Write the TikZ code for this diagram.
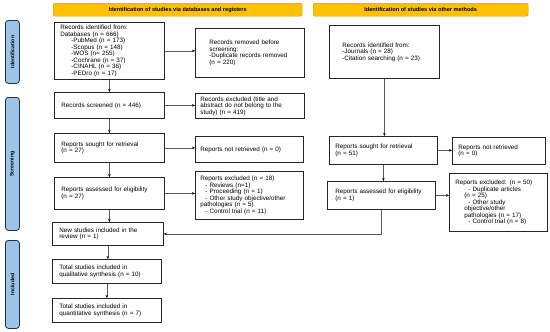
\documentclass[tikz,border=0pt]{standalone}
\usepackage{fontspec}
\setmainfont{Liberation Sans}
\usetikzlibrary{arrows.meta}
\definecolor{hdr}{HTML}{FFC000}
\definecolor{hdrline}{HTML}{C99A00}
\definecolor{barfill}{HTML}{9DC3E6}
\definecolor{barline}{HTML}{1F2F4F}
\begin{document}
\begin{tikzpicture}[x=1pt,y=-1pt,
 box/.style={draw=black!85, line width=0.8pt, fill=white, anchor=north west, align=left, inner ysep=1pt, font=\fontsize{6.3}{6.5}\selectfont},
 hdrbox/.style={draw=hdrline, fill=hdr, rounded corners=2pt, anchor=north west, font=\fontsize{5.6}{6}\selectfont\bfseries, inner sep=0pt},
 bar/.style={draw=barline, fill=barfill, rounded corners=3pt, line width=0.8pt, anchor=north west, inner sep=0pt},
 barlabel/.style={rotate=90, font=\fontsize{5.2}{6}\selectfont\bfseries},
 arr/.style={draw=black!65, line width=0.7pt, -{Stealth[length=3pt,width=2.6pt,black]}}]
\useasboundingbox (0,0) rectangle (550,332);
% headers
\node[hdrbox, minimum width=249pt, minimum height=13pt] (h1) at (53,3) {Identification of studies via databases and registers};
\node[hdrbox, minimum width=215pt, minimum height=13pt] (h2) at (313,3) {Identification of studies via other methods};
% side bars
\node[bar, minimum width=14pt, minimum height=63pt] (s1) at (5,20) {};
\node[barlabel] (s1t) at (s1.center) {Identification};
\node[bar, minimum width=14pt, minimum height=133pt] (s2) at (5,97) {};
\node[barlabel] (s2t) at (s2.center) {Screening};
\node[bar, minimum width=14pt, minimum height=88pt] (s3) at (5,240) {};
\node[barlabel] (s3t) at (s3.center) {Included};
% left column
\node[box, minimum height=57pt, text width=98pt, inner xsep=6pt] (b1) at (54,22) {Records identified from:\\Databases (n = 666)\\\hspace*{11pt}-PubMed (n = 173)\\\hspace*{11pt}-Scopus (n = 148)\\\hspace*{11pt}-WOS (n= 255)\\\hspace*{11pt}-Cochrane (n = 37)\\\hspace*{11pt}-CINAHL (n = 36)\\\hspace*{11pt}-PEDro (n = 17)};
\node[box, minimum height=49pt, text width=81pt, inner xsep=14pt] (b2) at (195,28) {Records removed before\\screening:\\-Duplicate records removed\\(n = 220)};
\node[box, minimum height=26pt, text width=96pt, inner xsep=7pt] (b3) at (54,92) {Records screened (n = 446)};
\node[box, minimum height=25pt, text width=99pt, inner xsep=5pt] (b4) at (195,93) {Records excluded (title and\\abstract do not belong to the\\study) (n = 419)};
\node[box, minimum height=29pt, text width=96pt, inner xsep=7pt] (b5) at (54,133) {Reports sought for retrieval\\(n = 27)};
\node[box, minimum height=26pt, text width=98pt, inner xsep=5pt] (b6) at (195,136) {Reports not retrieved (n = 0)};
\node[box, minimum height=32pt, text width=96pt, inner xsep=7pt] (b7) at (54,177) {Reports assessed for eligibility\\(n = 27)};
\node[box, minimum height=48pt, text width=98pt, inner xsep=5pt] (b8) at (195,171) {Reports excluded (n = 18)\\\hspace*{5pt}- Reviews (n=1)\\\hspace*{5pt}- Proceeding (n = 1)\\\hspace*{5pt}- Other study objective/other\\pathologies (n = 5)\\\hspace*{5pt}- Control trial (n = 11)};
\node[box, minimum height=23pt, text width=97pt, inner xsep=7pt] (b9) at (52,222) {New studies included in the\\review (n = 1)};
\node[box, minimum height=24pt, text width=95pt, inner xsep=7pt] (b10) at (52,259) {Total studies included in\\qualitative synthesis (n = 10)};
\node[box, minimum height=24pt, text width=95pt, inner xsep=7pt] (b11) at (52,298) {Total studies included in\\quantitative synthesis (n = 7)};
% right column
\node[box, minimum height=53pt, text width=84pt, inner xsep=13pt] (r1) at (329,25) {Records identified from:\\-Journals (n = 28)\\-Citation searching (n = 23)};
\node[box, minimum height=28pt, text width=96pt, inner xsep=6pt] (r2) at (329,136) {Reports sought for retrieval\\(n = 51)};
\node[box, minimum height=27pt, text width=81pt, inner xsep=6pt] (r3) at (452,137) {Reports not retrieved\\(n = 0)};
\node[box, minimum height=28pt, text width=92pt, inner xsep=8pt] (r4) at (327,181) {Reports assessed for eligibility\\(n = 1)};
\node[box, minimum height=58pt, text width=86pt, inner xsep=6pt] (r5) at (449,173) {Reports excluded: (n = 50)\\\hspace*{13pt}- Duplicate articles\\\hspace*{9pt}(n = 25)\\\hspace*{13pt}- Other study\\\hspace*{9pt}objective/other\\\hspace*{9pt}pathologies (n = 17)\\\hspace*{13pt}- Control trial (n = 8)};
% connectors left
\draw[arr] (b1.south) -- (b3.north);
\draw[arr] (b1.east) -- (b2.west |- b1.east);
\draw[arr] (b3.east) -- (b4.west |- b3.east);
\draw[arr] (b3.south) -- (b5.north);
\draw[arr] (b5.east) -- (b6.west |- b5.east);
\draw[arr] (b5.south) -- (b7.north);
\draw[arr] (b7.east) -- (b8.west |- b7.east);
\draw[arr] (b7.south) -- (b9.north -| b7.south);
\draw[arr] (b9.south) -- (b10.north -| b9.south);
\draw[arr] (b10.south) -- (b11.north);
% connectors right
\draw[arr] (r1.south) -- (r2.north -| r1.south);
\draw[arr] (r2.east) -- (r3.west |- r2.east);
\draw[arr] (r2.south) -- (r4.north -| r2.south);
\draw[arr] (r4.east) -- (r5.west |- r4.east);
\draw[arr] (r4.south) |- (b9.east);
\end{tikzpicture}
\end{document}
